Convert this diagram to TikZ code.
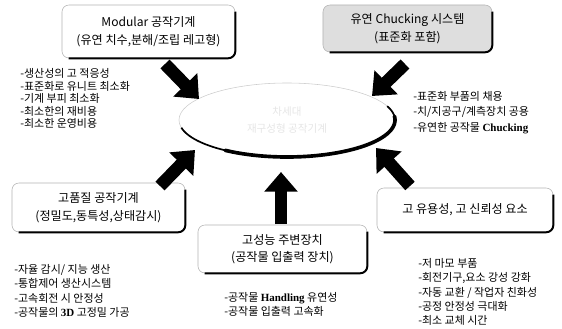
\documentclass[tikz,border=0pt]{standalone}
\usepackage{fontspec}
\setmainfont{Noto Sans CJK KR}
\newfontfamily\tms{Liberation Serif}
\usetikzlibrary{arrows.meta,shapes.geometric}
\def\boxedge(#1){\draw[line width=1.4pt, rounded corners=5pt] ([xshift=5pt]#1.south west) -- (#1.south east) -- ([yshift=-5pt]#1.north east);}

\tikzset{
  box/.style={draw=black!30, rounded corners=5pt, align=center, inner sep=0pt,
    font=\fontsize{8.6}{12.5}\selectfont},
  bullets/.style={align=left, anchor=north west, inner sep=0pt,
    font=\fontsize{7.8}{10.2}\selectfont},
  bigarrow/.style={line width=9pt, -{Triangle[width=23pt,length=14pt]}}
}

\begin{document}
\begin{tikzpicture}[x=0.025cm, y=0.025cm]
			\useasboundingbox (0,0) rectangle (562,-329);
			%%%%% CENTER %%%%%
			\node[ellipse, draw=black!20, minimum width=5.4cm, minimum height=1.85cm, align=center,
			  text=black!10, font=\fontsize{7.5}{12}\selectfont] (hub) at (287,-120) {차세대\\재구성형 공작기계};
			\draw[line width=1.2pt] plot[domain=192:382, samples=72] ({287+108*cos(\x)},{-120+37*sin(\x)});
			\draw[line width=2.6pt, line cap=round] plot[domain=235:366, samples=60] ({287+108*cos(\x)},{-120+37*sin(\x)});
			
			%%%%% BOXES %%%%%
			\node[box, minimum width=4.325cm, minimum height=1.325cm] (modular) at (148.5,-31.5)
			{Modular 공작기계\\(유연 치수,분해/조립 레고형)};
			\node[box, fill=black!13, minimum width=4.225cm, minimum height=1.175cm] (chucking) at (407.5,-28.5)
			{유연 Chucking 시스템\\(표준화 포함)};
			\node[box, minimum width=4.325cm, minimum height=1.225cm] (quality) at (98.5,-207.5)
			{고품질 공작기계\\(정밀도,동특성,상태감시)};
			\node[box, minimum width=4.225cm, minimum height=1.2cm] (periph) at (282.5,-249)
			{고성능 주변장치\\(공작물 입출력 장치)};
			\node[box, minimum width=4.4cm, minimum height=1.1cm] (reliab) at (465,-210)
			{고 유용성, 고 신뢰성 요소};
			\boxedge(modular) \boxedge(chucking) \boxedge(quality) \boxedge(periph) \boxedge(reliab)
			
			%%%%% ARROWS %%%%%
			\coordinate (a1s) at (165,-64);  \coordinate (a1e) at (199,-99);
			\coordinate (a2s) at (405,-64);  \coordinate (a2e) at (372,-96);
			\coordinate (a3s) at (160,-186); \coordinate (a3e) at (195,-150);
			\coordinate (a4s) at (410,-186); \coordinate (a4e) at (376,-148);
			\coordinate (a5s) at (281,-224); \coordinate (a5e) at (281,-172);
			\foreach \a in {a1,a2,a3,a4,a5}
			  \draw[bigarrow] (\a s) -- (\a e);
			
			%%%%% LISTS %%%%%
			\node[bullets, font=\fontsize{7.8}{9}\selectfont] (modlist) at (20,-68)
			{-생산성의 고 적응성\\-표준화로 유니트 최소화\\-기계 부피 최소화\\-최소한의 재비용\\-최소한 운영비용};
			\node[bullets, font=\fontsize{7.8}{11}\selectfont] (chucklist) at (413,-91)
			{-표준화 부품의 채용\\-치/지공구/계측장치 공용\\-유연한 공작물 {\tms\bfseries Chucking}};
			\node[bullets] (qualist) at (14,-264)
			{-자율 감시/ 지능 생산\\-통합제어 생산시스템\\-고속회전 시 안정성\\-공작물의 {\tms\bfseries 3D} 고정밀 가공};
			\node[bullets] (periphlist) at (224,-292)
			{-공작물 {\tms\bfseries Handling} 유연성\\-공작물 입출력 고속화};
			\node[bullets] (reliablist) at (418,-258)
			{-저 마모 부품\\-회전기구,요소 강성 강화\\-자동 교환 / 작업자 친화성\\-공정 안정성 극대화\\-최소 교체 시간};
		\end{tikzpicture}
\end{document}
